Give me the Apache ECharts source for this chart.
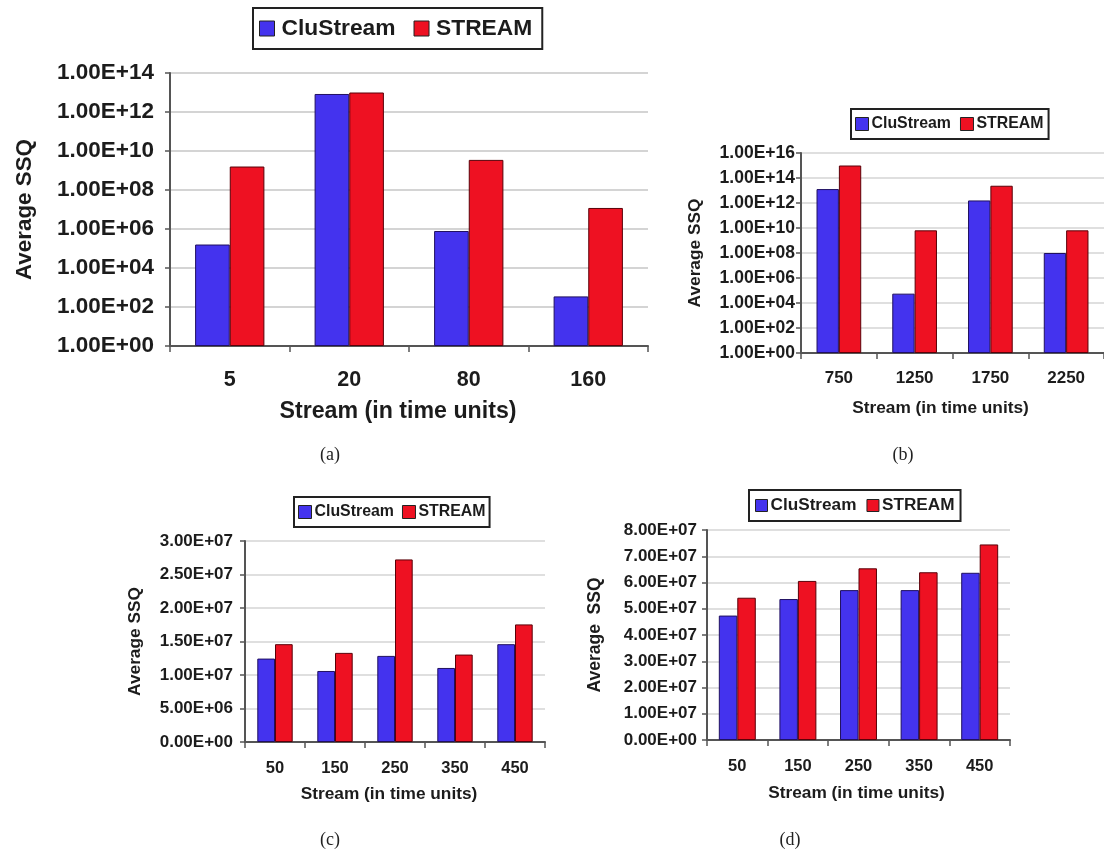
<!DOCTYPE html>
<html>
<head>
<meta charset="utf-8">
<script src="https://cdn.jsdelivr.net/npm/echarts@6/dist/echarts.min.js"></script>
<style>
  html, body { margin: 0; padding: 0; background: #fff; }
  #chart { width: 1104px; height: 854px; }
</style>
</head>
<body>
<div id="chart"></div>
<script>
// ---- data ----
const seriesNames = ['CluStream', 'STREAM'];

// (a) log scale, horizon in time units
const catsA = ['5', '20', '80', '160'];
const cluA = [1.6e5, 8.4e12, 7.9e5, 3.5e2];
const strA = [1.6e9, 1.0e13, 3.5e9, 1.2e7];

// (b) log scale
const catsB = ['750', '1250', '1750', '2250'];
const cluB = [1.3e13, 5.6e4, 1.6e12, 1.0e8];
const strB = [1.0e15, 6.5e9, 2.4e13, 6.5e9];

// (c) linear scale
const catsC = ['50', '150', '250', '350', '450'];
const cluC = [1.245e7, 1.06e7, 1.285e7, 1.105e7, 1.46e7];
const strC = [1.46e7, 1.33e7, 2.725e7, 1.305e7, 1.755e7];

// (d) linear scale
const catsD = ['50', '150', '250', '350', '450'];
const cluD = [4.74e7, 5.37e7, 5.71e7, 5.71e7, 6.37e7];
const strD = [5.42e7, 6.06e7, 6.54e7, 6.39e7, 7.45e7];

const captions = ['(a)', '(b)', '(c)', '(d)'];

// ---- styling ----
const FONT = 'Liberation Sans';
const INK = '#1c1c1c';
const BLUE = '#4433ee';
const RED = '#ee1122';

// Excel-style scientific label, e.g. 1.00E+14
function sci(v) {
  const s = Number(v).toExponential(2).toUpperCase();
  return s.replace(/E([+-])(\d)$/, 'E$10$2');
}

// per-panel layout (pixels)
const panels = [
  { cats: catsA, clu: cluA, str: strA, log: true, min: 1, max: 1e14, interval: 2,
    grid: { left: 170, top: 73, width: 478, height: 273 },
    tickFs: 22.5, catFs: 21.5, xNameFs: 23.2, yNameFs: 22.4, yName: 'Average SSQ',
    yLabelMargin: 16, xLabelMargin: 23, xNameGap: 54, xNamePad: 22, yNameGap: 134,
    legend: { left: 253, top: 8, itemW: 15, itemH: 15, fs: 22.8, pad: [9, 10, 9, 6], gap: 18, tpad: 2 },
    gridW: 2, catGap: '42%' },
  { cats: catsB, clu: cluB, str: strB, log: true, min: 1, max: 1e16, interval: 2,
    grid: { left: 801, top: 153, width: 308, height: 200 },
    tickFs: 17.5, catFs: 17, xNameFs: 17.3, yNameFs: 17.3, yName: 'Average SSQ',
    yLabelMargin: 6, xLabelMargin: 17, xNameGap: 47, xNamePad: 24, yNameGap: 97,
    legend: { left: 851, top: 109, itemW: 13, itemH: 13, fs: 15.9, pad: [7, 5, 7, 4], gap: 9, tpad: -2 },
    gridW: 1.5, catGap: '41%' },
  { cats: catsC, clu: cluC, str: strC, log: false, min: 0, max: 3e7, interval: 5e6,
    grid: { left: 245, top: 541, width: 300, height: 201 },
    tickFs: 17, catFs: 16.5, xNameFs: 17.3, yNameFs: 17.3, yName: 'Average SSQ',
    yLabelMargin: 12, xLabelMargin: 18, xNameGap: 44, xNamePad: 12, yNameGap: 101,
    legend: { left: 294, top: 497, itemW: 13, itemH: 13, fs: 15.9, pad: [7, 4, 7, 4], gap: 8, tpad: -2 },
    gridW: 1.5, catGap: '41%' },
  { cats: catsD, clu: cluD, str: strD, log: false, min: 0, max: 8e7, interval: 1e7,
    grid: { left: 707, top: 530, width: 303, height: 210 },
    tickFs: 17, catFs: 16.5, xNameFs: 17.3, yNameFs: 17.5, yName: 'Average  SSQ',
    yLabelMargin: 10, xLabelMargin: 18, xNameGap: 45, xNamePad: 4, yNameGap: 103,
    legend: { left: 749, top: 490, itemW: 12, itemH: 12, fs: 17.2, pad: [7, 6, 7, 6], gap: 10, tpad: -2 },
    gridW: 1.5, catGap: '39%' }
];

const captionPos = [[330, 455], [903, 455], [330, 840], [790, 840]];

const option = {
  backgroundColor: '#fff',
  animation: false,
  grid: [], xAxis: [], yAxis: [], series: [], legend: [], graphic: []
};

panels.forEach((p, i) => {
  option.grid.push(Object.assign({ containLabel: false }, p.grid));

  option.xAxis.push({
    type: 'category',
    gridIndex: i,
    data: p.cats,
    boundaryGap: true,
    name: 'Stream (in time units)',
    nameLocation: 'middle',
    nameGap: p.xNameGap,
    nameTextStyle: { fontFamily: FONT, fontWeight: 'bold', fontSize: p.xNameFs, color: INK,
                     padding: [0, p.xNamePad, 0, 0] },
    axisLine: { show: true, lineStyle: { color: '#555', width: 2 } },
    axisTick: { show: true, length: 6, alignWithLabel: false, lineStyle: { color: '#555', width: 1.5 } },
    axisLabel: { fontFamily: FONT, fontWeight: 'bold', fontSize: p.catFs, color: INK, margin: p.xLabelMargin },
    splitLine: { show: false }
  });

  const y = {
    type: p.log ? 'log' : 'value',
    gridIndex: i,
    min: p.min,
    max: p.max,
    interval: p.interval,
    name: p.yName,
    nameLocation: 'middle',
    nameGap: p.yNameGap,
    nameTextStyle: { fontFamily: FONT, fontWeight: 'bold', fontSize: p.yNameFs, color: INK },
    axisLine: { show: true, lineStyle: { color: '#555', width: 2 } },
    axisTick: { show: true, length: 5, lineStyle: { color: '#555', width: 1.5 } },
    axisLabel: { fontFamily: FONT, fontWeight: 'bold', fontSize: p.tickFs, color: INK,
                 margin: p.yLabelMargin, formatter: sci },
    splitLine: { show: true, lineStyle: { color: '#d4d4d4', width: p.gridW } }
  };
  if (p.log) y.logBase = 10;
  option.yAxis.push(y);

  [[p.clu, BLUE, '#201060'], [p.str, RED, '#5a0008']].forEach((s, k) => {
    option.series.push({
      type: 'bar',
      name: seriesNames[k],
      xAxisIndex: i,
      yAxisIndex: i,
      data: s[0],
      barGap: '0%',
      barCategoryGap: p.catGap,
      itemStyle: { color: s[1], borderColor: s[2], borderWidth: 1 },
      emphasis: { disabled: true }
    });
  });

  const L = p.legend;
  option.legend.push({
    data: seriesNames,
    left: L.left,
    top: L.top,
    orient: 'horizontal',
    icon: 'rect',
    itemWidth: L.itemW,
    itemHeight: L.itemH,
    itemGap: L.gap,
    padding: L.pad,
    backgroundColor: '#fff',
    borderColor: '#222',
    borderWidth: 2,
    borderRadius: 0,
    selectedMode: false,
    itemStyle: { borderColor: '#222', borderWidth: 1 },
    textStyle: { fontFamily: FONT, fontWeight: 'bold', fontSize: L.fs, color: INK, padding: [0, 0, 0, L.tpad] }
  });

  option.graphic.push({
    type: 'text',
    x: captionPos[i][0],
    y: captionPos[i][1],
    style: {
      text: captions[i],
      fontFamily: 'Liberation Serif',
      fontSize: 18,
      fill: '#222',
      textAlign: 'center',
      textVerticalAlign: 'middle'
    }
  });
});

const chart = echarts.init(document.getElementById('chart'), null, { renderer: 'canvas' });
chart.setOption(option);
</script>
</body>
</html>
